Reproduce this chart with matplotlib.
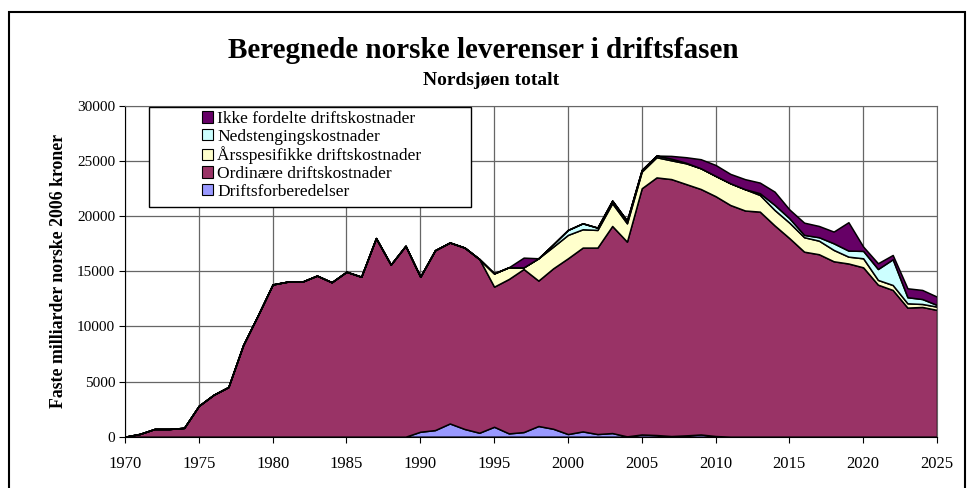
import matplotlib
matplotlib.use("Agg")
import matplotlib.pyplot as plt
from matplotlib.patches import Patch, Rectangle

plt.rcParams["font.family"] = ["Liberation Serif", "DejaVu Serif"]

# years 1970-2025
years = list(range(1970, 2026))

driftsforberedelser = [0] * 20 + [
    450, 600, 1200, 700, 360, 900, 300, 420, 970, 720,
    240, 480, 240, 330, 30, 200, 150, 60, 120, 200,
    60] + [0] * 15

ordinaere = [
    0, 250, 700, 700, 800, 2800, 3800, 4500, 8300, 11000,
    13800, 14050, 14050, 14600, 14000, 14950, 14500, 18000, 15600, 17300,
    14050, 16300, 16400, 16440, 15740, 12700, 14000, 14780, 13180, 14540,
    15930, 16660, 16900, 18770, 17650, 22320, 23350, 23290, 22780, 22250,
    21740, 21000, 20500, 20400, 19150, 18000, 16770, 16540, 15900, 15700,
    15350, 13780, 13300, 11700, 11760, 11490]

aarsspesifikke = [0] * 25 + [
    1200, 1060, 150, 2020, 1960,
    2120, 1660, 1600, 2060, 1660, 1510, 1830, 1700, 1880, 1880,
    1840, 1970, 1930, 1510, 1400, 1400, 1310, 1230, 1030, 620,
    820, 430, 450, 390, 270, 300]

nedstenging = [0] * 29 + [
    220,
    450, 540, 210, 240, 240, 150, 150, 150, 50, 0,
    0, 0, 0, 160, 460, 400, 210, 310, 600, 550,
    670, 990, 2330, 550, 450, 150]

ikke_fordelte = [0] * 27 + [
    880, 0, 0,
    0, 0, 0, 0, 0, 0, 0, 250, 500, 820,
    990, 850, 910, 960, 1200, 800, 1110, 1020, 1060, 2570,
    390, 520, 390, 810, 820, 750]

labels = ["Driftsforberedelser", "Ordinære driftskostnader",
          "Årsspesifikke driftskostnader", "Nedstengingskostnader",
          "Ikke fordelte driftskostnader"]
colors = ["#9999FF", "#993366", "#FFFFCC", "#CCFFFF", "#660066"]

fig = plt.figure(figsize=(9.73, 4.88), dpi=100)
ax = fig.add_axes([125 / 973, 1 - 436.7 / 488, 812 / 973, 331 / 488])

ax.stackplot(years, driftsforberedelser, ordinaere, aarsspesifikke,
             nedstenging, ikke_fordelte, colors=colors,
             edgecolor="black", linewidth=1.1)

ax.set_xlim(1970, 2025)
ax.set_ylim(0, 30000)
ax.set_xticks(range(1970, 2026, 5))
ax.set_yticks(range(0, 30001, 5000))
ax.tick_params(direction="out", length=4)
ax.tick_params(axis="x", labelsize=12, pad=10)
ax.tick_params(axis="y", labelsize=11, pad=3)
ax.grid(True, color="#666666", linewidth=0.9)
ax.set_axisbelow(True)
for s in ["top", "right"]:
    ax.spines[s].set_color("#666666")

# legend box
ax.add_patch(Rectangle((0.0296, 0.693), 0.396, 0.302, transform=ax.transAxes,
                       facecolor="white", edgecolor="black", lw=1, zorder=5))
handles = [Patch(facecolor=c, edgecolor="black", lw=0.8, label=l)
           for c, l in zip(colors[::-1], labels[::-1])]
leg = ax.legend(handles=handles, loc="upper left",
                bbox_to_anchor=(0.0948, 0.984), frameon=False, fontsize=12.5,
                borderaxespad=0, borderpad=0, labelspacing=0.1,
                handlelength=0.62, handleheight=0.62, handletextpad=0.25)
leg.set_zorder(6)

fig.text(483 / 973, 1 - 57.5 / 488, "Beregnede norske leverenser i driftsfasen",
         ha="center", va="baseline", fontsize=21, fontweight="bold")
fig.text(491 / 973, 1 - 85 / 488, "Nordsjøen totalt",
         ha="center", va="baseline", fontsize=14, fontweight="bold")
fig.text(59 / 973, 1 - 271 / 488, "Faste milliarder norske 2006 kroner",
         ha="center", va="center", rotation=90, fontsize=12.8,
         fontweight="bold")

# outer frame of the chart
fig.add_artist(Rectangle((8.5 / 973, -0.1), (965 - 8.5) / 973,
                         0.1 + 1 - 12.5 / 488, transform=fig.transFigure,
                         facecolor="none", edgecolor="black", lw=1.5))

fig.savefig("out.png", dpi=100)
